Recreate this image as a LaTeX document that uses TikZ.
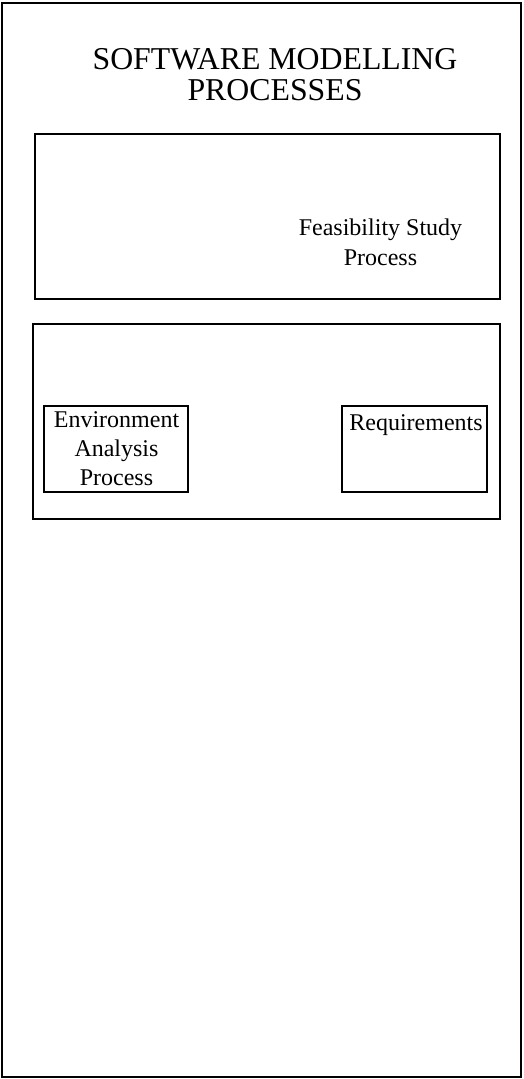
\documentclass[tikz,border=0pt]{standalone}
\usepackage{fontspec}
\setmainfont{Liberation Serif}
\begin{document}
\begin{tikzpicture}[x=1pt,y=-1pt,
  frame/.style={draw=black,line width=1.8pt,inner sep=0pt,outer sep=0pt},
  lbl/.style={inner sep=0pt,align=center,anchor=base,font=\fontsize{24}{29.5}\selectfont},
  ttl/.style={inner sep=0pt,align=center,anchor=base,font=\fontsize{31.8}{31}\selectfont}]
\useasboundingbox (0,0) rectangle (523,1079);
\node[frame,minimum width=519pt,minimum height=1074pt] (outer) at (261.5,540) {};
\node[ttl] (title) at (275,100) {SOFTWARE MODELLING\\PROCESSES};
\node[frame,minimum width=465pt,minimum height=165pt] (feas) at (267.5,216.5) {};
\node[lbl] (feastxt) at (380.5,265) {Feasibility Study\\Process};
\node[frame,minimum width=467pt,minimum height=195pt] (mod) at (266.5,421.5) {};
\node[frame,minimum width=144pt,minimum height=86pt] (env) at (116,449) {};
\node[lbl,font=\fontsize{24}{29}\selectfont] (envtxt) at (116.5,485) {Environment\\Analysis\\Process};
\node[frame,minimum width=145pt,minimum height=86pt] (req) at (414.5,449) {};
\node[lbl] (reqtxt) at (416,430) {Requirements};
\end{tikzpicture}
\end{document}
